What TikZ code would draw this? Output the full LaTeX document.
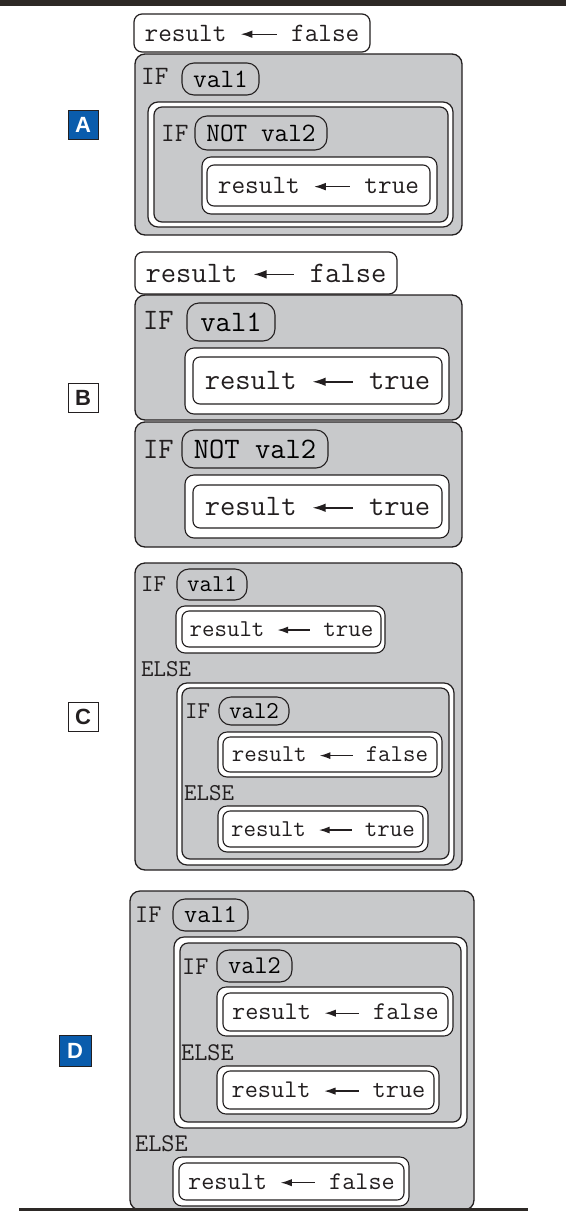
\documentclass[tikz,border=0pt]{standalone}
\usepackage{fontspec}
\setmainfont{Liberation Serif}
\newfontfamily\lbl{Liberation Sans}
\usetikzlibrary{arrows.meta,calc}
\definecolor{boxgray}{RGB}{200,201,203}
\definecolor{ink}{RGB}{35,31,32}
\definecolor{bar}{RGB}{45,41,38}
\definecolor{lblue}{RGB}{10,92,172}
\newcommand\larr{\tikz[baseline=0pt]\draw[ink,line width=0.05em,{Latex[length=0.44em,width=0.29em]}-] (0,0.26em) -- (1.36em,0.26em);}
\newcommand\leaf[6]{%
  \draw[leafo] (#2) rectangle (#3);
  \draw[leafi] (#4) rectangle (#5);
  \node[txt] (#1) at ($(#4)!0.5!(#5)$) {result \larr{} #6};}
\newcommand\dbox[4]{%
  \draw[dblo] (#1) rectangle (#2);
  \draw[dbli] (#3) rectangle (#4);}
\newcommand\pill[5]{%
  \node[pillst, minimum width=#3bp, minimum height=#4bp] (#1) at (#2) {#5};}
\tikzset{
  gbox/.style={draw=ink, fill=boxgray, line width=1.3bp, rounded corners=10bp},
  dblo/.style={draw=ink, fill=white, line width=1.2bp, rounded corners=10bp},
  dbli/.style={draw=ink, fill=boxgray, line width=1.2bp, rounded corners=8bp},
  leafo/.style={draw=ink, fill=white, line width=1.1bp, rounded corners=9bp},
  leafi/.style={draw=ink, fill=white, line width=1.1bp, rounded corners=7bp},
  topb/.style={draw=ink, fill=white, line width=1.2bp, rounded corners=8bp},
  pillst/.style={draw=ink, fill=boxgray, line width=1.1bp, rounded corners=12bp, inner sep=0pt},
  txt/.style={inner sep=0pt, text=ink},
  kw/.style={inner sep=0pt, text=ink, anchor=base west},
  lab/.style={draw=ink, line width=0.8bp, minimum width=30bp, minimum height=29bp, inner sep=0pt,
    font=\lbl\bfseries\fontsize{22bp}{22bp}\selectfont},
  fA/.style={every node/.append style={font=\ttfamily\fontsize{26.5bp}{27bp}\selectfont}},
  fB/.style={every node/.append style={font=\ttfamily\fontsize{29.7bp}{30bp}\selectfont}},
  fC/.style={every node/.append style={font=\ttfamily\fontsize{24.2bp}{25bp}\selectfont}},
  fD/.style={every node/.append style={font=\ttfamily\fontsize{25.5bp}{26bp}\selectfont}},
}
\begin{document}
\begin{tikzpicture}[x=1bp,y=-1bp]
\useasboundingbox (0,0) rectangle (566,1211);
\fill[bar] (0,0) rectangle (566,6);

% ---------- A ----------
\begin{scope}[fA]
\draw[topb] (134,14) rectangle (370,52);
\node[txt] (topA) at (252,33) {result \larr{} false};
\draw[gbox] (135,54) rectangle (462,235);
\node[kw] (ifA1) at (141,84) {IF};
\pill{pA1}{220.5,79}{77}{32}{val1}
\dbox{148,102}{453,227}{154,107}{448,222}
\node[kw] (ifA2) at (161,141) {IF};
\pill{pA2}{261,133}{132}{34}{NOT val2}
\leaf{lA1}{202,157}{437,214}{207,165}{430,206}{true}
\end{scope}
\node[lab, fill=lblue, text=white] (labA) at (83,124.5) {A};

% ---------- B ----------
\begin{scope}[fB]
\draw[topb] (135,252) rectangle (397,294);
\node[txt] (topB) at (266,273) {result \larr{} false};
\draw[gbox] (135,295) rectangle (462,420);
\node[kw] (ifB1) at (143,329) {IF};
\pill{pB1}{231,322}{88}{38}{val1}
\leaf{lB1}{185,348}{449,414}{193,357}{442,404}{true}
\draw[gbox] (135,422) rectangle (462,547);
\node[kw] (ifB2) at (143,458) {IF};
\pill{pB2}{255,449}{146}{38}{NOT val2}
\leaf{lB2}{185,475}{449,538}{193,485}{442,528}{true}
\end{scope}
\node[lab, fill=white, text=ink] (labB) at (83,398) {B};

% ---------- C ----------
\begin{scope}[fC]
\draw[gbox] (135,563) rectangle (462,870);
\node[kw] (ifC1) at (141,591) {IF};
\pill{pC1}{212,584.5}{70}{31}{val1}
\leaf{lC1}{176,606}{385,653}{182,611}{381,647}{true}
\node[kw] (elC1) at (141,676) {ELSE};
\dbox{177,683}{454,865}{182,688}{449,859}
\node[kw] (ifC2) at (185,718) {IF};
\pill{pC2}{254,711}{70}{28}{val2}
\leaf{lC2}{218,732}{442,777}{223,737}{437,772}{false}
\node[kw] (elC2) at (184,800) {ELSE};
\leaf{lC3}{218,806}{428,852}{223,811}{423,847}{true}
\end{scope}
\node[lab, fill=white, text=ink] (labC) at (83,717) {C};

% ---------- D ----------
\begin{scope}[fD]
\draw[gbox] (130,891) rectangle (474,1210);
\node[kw] (ifD1) at (135,922) {IF};
\pill{pD1}{210.5,915}{75}{32}{val1}
\dbox{174,937}{467,1128}{180,943}{461,1122}
\node[kw] (ifD2) at (182,974) {IF};
\pill{pD2}{254.5,966}{75}{32}{val2}
\leaf{lD1}{217,987}{453,1036}{223,993}{448,1031}{false}
\node[kw] (elD1) at (181,1060) {ELSE};
\leaf{lD2}{217,1066}{439,1114}{223,1071}{434,1109}{true}
\node[kw] (elD2) at (135,1151) {ELSE};
\leaf{lD3}{173,1157}{409,1206}{179,1163}{404,1200}{false}
\end{scope}
\node[lab, fill=lblue, text=white, minimum width=32bp, minimum height=31bp] (labD) at (75,1050.5) {D};

\draw[bar, line width=3bp] (19,1209.5) -- (528,1209.5);
\end{tikzpicture}
\end{document}
